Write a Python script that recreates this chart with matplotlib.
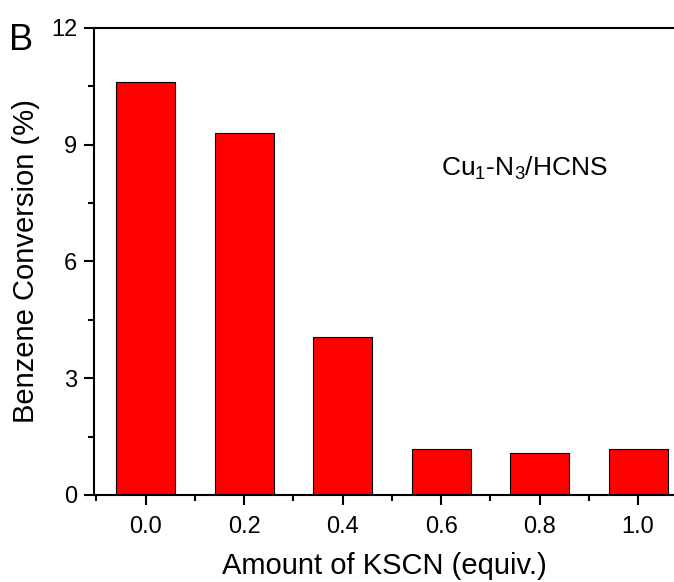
import matplotlib
matplotlib.use("Agg")
import matplotlib.pyplot as plt
from matplotlib.ticker import MultipleLocator

plt.rcParams['font.family'] = ['Liberation Sans', 'DejaVu Sans']
plt.rcParams['mathtext.fontset'] = 'custom'
plt.rcParams['mathtext.rm'] = 'Liberation Sans'
plt.rcParams['mathtext.it'] = 'Liberation Sans'

# KSCN poisoning test
kscn = [0.0, 0.2, 0.4, 0.6, 0.8, 1.0]
conversion = [10.6, 9.3, 4.07, 1.18, 1.08, 1.18]
tick_labels = ["0.0", "0.2", "0.4", "0.6", "0.8", "1.0"]

fig = plt.figure(figsize=(6.74, 5.82), dpi=100)
ax = fig.add_axes([0.1395, 0.1495, 0.8605, 0.8024])

ax.bar(kscn, conversion, width=0.12, color="#ff0000", edgecolor="black", linewidth=0.8)

ax.set_xlim(-0.105, 1.073)
ax.set_ylim(0, 12)
ax.set_xticks(kscn)
ax.set_xticklabels(tick_labels)
ax.xaxis.set_minor_locator(MultipleLocator(0.1))
ax.set_yticks([0, 3, 6, 9, 12])
ax.yaxis.set_minor_locator(MultipleLocator(1.5))

for s in ("left", "bottom", "top"):
    ax.spines[s].set_linewidth(1.5)
ax.spines["right"].set_visible(False)

ax.tick_params(which="major", direction="out", length=7, width=1.5, labelsize=17, pad=5)
ax.tick_params(which="minor", direction="out", length=4, width=1.5)
ax.tick_params(axis="x", pad=8)

ax.set_xlabel("Amount of KSCN (equiv.)", fontsize=21, labelpad=10)
ax.set_ylabel("Benzene Conversion (%)", fontsize=21, labelpad=8)

ax.text(0.60, 8.4, r"Cu$_1$-N$_3$/HCNS", fontsize=19, va="center", ha="left")
fig.text(0.014, 0.931, "B", fontsize=26, va="center", ha="left")

fig.savefig("out.png", dpi=100)
